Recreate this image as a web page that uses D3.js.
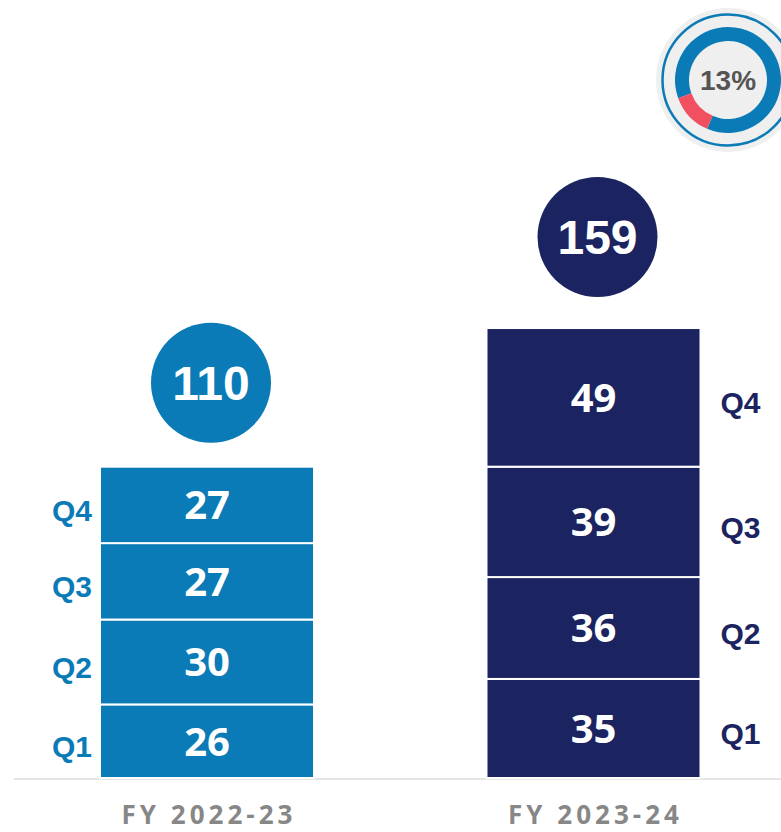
<!DOCTYPE html>
<html>
<head>
<meta charset="utf-8">
<script src="https://cdn.jsdelivr.net/npm/d3@7"></script>
<style>
  body { margin: 0; background: #fff; }
  svg { display: block; }
</style>
</head>
<body>
<div id="chart"></div>
<script>
// data
var years    = ["FY 2022-23", "FY 2023-24"];
var quarters = ["Q1", "Q2", "Q3", "Q4"];
var fy22     = [26, 30, 27, 27];
var fy23     = [35, 36, 39, 49];
var totals   = [110, 159];
var growth   = 13;

var width  = 781;
var height = 832;
var colors = ["#0a7bb6", "#1b2460"];
var baseY  = 778;
var arial  = 'Arial, "Liberation Sans", sans-serif';

var svg = d3.select('#chart')
            .append('svg')
            .attr('width', width)
            .attr('height', height);

var xScale = d3.scalePoint()
               .domain(years)
               .range([207, 593.5]);

var yScale = d3.scaleLinear()
               .domain([0, 160])
               .range([baseY, baseY - 160 * 2.83]);

var barW = 214;
var series = [fy22, fy23];

// baseline
svg.append('line')
   .attr('x1', 14).attr('x2', width)
   .attr('y1', baseY + 1).attr('y2', baseY + 1)
   .attr('stroke', '#dcdcdc')
   .attr('stroke-width', 1.5);

years.forEach(function(yr, i){
  var cx = xScale(yr);
  var stack = [];
  var acc = 0;
  series[i].forEach(function(v, q){
    stack.push({q: quarters[q], v: v, y0: acc, y1: acc + v});
    acc += v;
  });

  var g = svg.append('g');

  g.selectAll('rect')
   .data(stack)
   .enter()
   .append('rect')
   .attr('x', cx - barW / 2)
   .attr('width', barW)
   .attr('y', function(d){ return yScale(d.y1); })
   .attr('height', function(d){ return yScale(d.y0) - yScale(d.y1); })
   .attr('fill', colors[i])
   .attr('stroke', '#fff')
   .attr('stroke-width', 2);

  g.selectAll('text.val')
   .data(stack)
   .enter()
   .append('text')
   .attr('class', 'val')
   .attr('x', cx)
   .attr('y', function(d){ return (yScale(d.y0) + yScale(d.y1)) / 2; })
   .attr('dy', '0.36em')
   .attr('text-anchor', 'middle')
   .attr('fill', '#fff')
   .style('font-family', '"Open Sans", sans-serif')
   .style('font-weight', 'bold')
   .style('font-size', '40px')
   .text(function(d){ return d.v; });

  // quarter labels: left of first bar, right of second
  g.selectAll('text.q')
   .data(stack)
   .enter()
   .append('text')
   .attr('class', 'q')
   .attr('x', i === 0 ? cx - barW / 2 - 8 : cx + barW / 2 + 20)
   .attr('y', function(d){ return (yScale(d.y0) + yScale(d.y1)) / 2 + 5; })
   .attr('dy', '0.36em')
   .attr('text-anchor', i === 0 ? 'end' : 'start')
   .attr('fill', colors[i])
   .style('font-family', arial)
   .style('font-weight', 'bold')
   .style('font-size', '30px')
   .text(function(d){ return d.q; });

  // total bubble
  var top = yScale(totals[i]);
  var cy = top - (i === 0 ? 84 : 91);
  g.append('circle')
   .attr('cx', cx + 4)
   .attr('cy', cy)
   .attr('r', 60)
   .attr('fill', colors[i]);
  g.append('text')
   .attr('x', cx + 4)
   .attr('y', cy)
   .attr('dy', '0.36em')
   .attr('text-anchor', 'middle')
   .attr('fill', '#fff')
   .style('font-family', arial)
   .style('font-weight', 'bold')
   .style('font-size', '48px')
   .text(totals[i]);

  // category label
  g.append('text')
   .attr('x', cx + 2)
   .attr('y', 824)
   .attr('text-anchor', 'middle')
   .attr('fill', '#878787')
   .style('font-family', '"Open Sans", sans-serif')
   .style('font-weight', 'bold')
   .style('font-size', '26px')
   .style('letter-spacing', '4px')
   .text(yr);
});

// growth donut
var dg = svg.append('g').attr('transform', 'translate(728,80)');
dg.append('circle').attr('r', 72).attr('fill', '#efefef');
dg.append('circle').attr('r', 65.5).attr('fill', 'none')
  .attr('stroke', '#0a7bb6').attr('stroke-width', 2.5);

var arc = d3.arc().innerRadius(39).outerRadius(53);
var pie = d3.pie().sort(null).startAngle(250 * Math.PI / 180).endAngle(250 * Math.PI / 180 + 2 * Math.PI);
dg.selectAll('path')
  .data(pie([100 - growth, growth]))
  .enter()
  .append('path')
  .attr('d', arc)
  .attr('fill', function(d, i){ return i === 0 ? '#0a7bb6' : '#f0505f'; });

dg.append('text')
  .attr('y', 0)
  .attr('dy', '0.36em')
  .attr('text-anchor', 'middle')
  .attr('fill', '#555')
  .style('font-family', arial)
  .style('font-weight', 'bold')
  .style('font-size', '28px')
  .text(growth + '%');
</script>
</body>
</html>
